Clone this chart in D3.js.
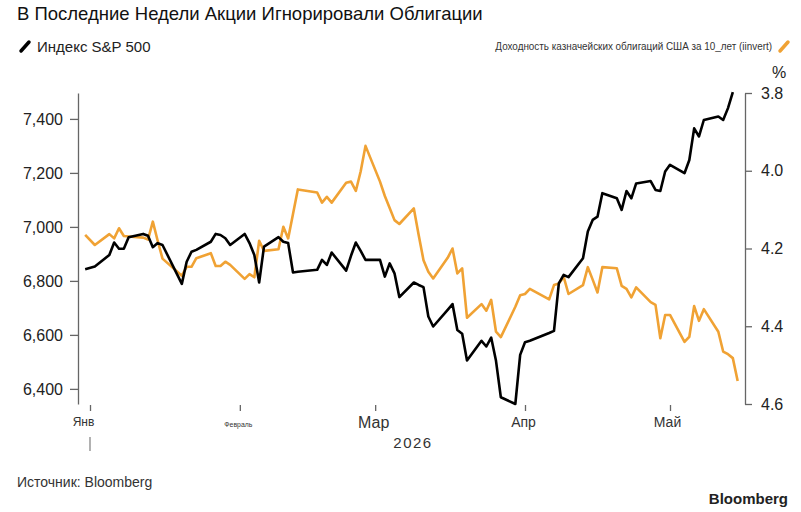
<!DOCTYPE html>
<html>
<head>
<meta charset="utf-8">
<script src="https://cdn.jsdelivr.net/npm/d3@7"></script>
<style>
  body { margin: 0; background: #fff; }
  svg { font-family: "Liberation Sans", Arial, sans-serif; }
</style>
</head>
<body>
<script>
// S&P 500 (left axis)
var spxDates = ["2025-12-31","2026-01-02","2026-01-05","2026-01-06","2026-01-07","2026-01-08","2026-01-09",
  "2026-01-12","2026-01-13","2026-01-14","2026-01-15","2026-01-16","2026-01-20","2026-01-21","2026-01-22","2026-01-23",
  "2026-01-26","2026-01-27","2026-01-28","2026-01-29","2026-01-30","2026-02-02","2026-02-03","2026-02-04","2026-02-05","2026-02-06",
  "2026-02-09","2026-02-10","2026-02-11","2026-02-12","2026-02-13","2026-02-17","2026-02-18","2026-02-19","2026-02-20",
  "2026-02-23","2026-02-24","2026-02-25","2026-02-26","2026-02-27","2026-03-02","2026-03-03","2026-03-04","2026-03-05","2026-03-06",
  "2026-03-09","2026-03-10","2026-03-11","2026-03-12","2026-03-13","2026-03-16","2026-03-17","2026-03-18","2026-03-19","2026-03-20",
  "2026-03-23","2026-03-24","2026-03-25","2026-03-26","2026-03-27","2026-03-30","2026-03-31","2026-04-01","2026-04-02",
  "2026-04-06","2026-04-07","2026-04-08","2026-04-09","2026-04-10","2026-04-13","2026-04-14","2026-04-15","2026-04-16","2026-04-17",
  "2026-04-20","2026-04-21","2026-04-22","2026-04-23","2026-04-24","2026-04-27","2026-04-28","2026-04-29","2026-04-30","2026-05-01",
  "2026-05-04","2026-05-05","2026-05-06","2026-05-07","2026-05-08","2026-05-11","2026-05-12","2026-05-13","2026-05-14"];
var spxValues = [6843,6853,6896,6942,6919,6919,6962,
  6974,6967,6925,6940,6933,6789,6871,6908,6915,
  6945,6974,6970,6958,6933,6974,6940,6896,6794,6927,
  6962,6945,6940,6831,6834,6841,6878,6859,6905,
  6838,6893,6942,6911,6878,6878,6816,6865,6828,6740,
  6794,6785,6777,6668,6631,6693,6714,6618,6604,6505,
  6578,6557,6590,6504,6369,6344,6526,6573,6578,
  6607,6615,6791,6822,6814,6884,6983,7026,7038,7125,
  7106,7063,7133,7106,7161,7170,7137,7133,7205,7230,
  7199,7248,7365,7335,7396,7409,7396,7440,7499];

// 10-year Treasury yield, % (right axis, inverted)
var yieldDates = ["2025-12-31","2026-01-02","2026-01-05","2026-01-06","2026-01-07","2026-01-08","2026-01-09",
  "2026-01-12","2026-01-13","2026-01-14","2026-01-15","2026-01-16","2026-01-20","2026-01-21","2026-01-22","2026-01-23",
  "2026-01-26","2026-01-27","2026-01-28","2026-01-29","2026-01-30","2026-02-02","2026-02-03","2026-02-04","2026-02-05","2026-02-06",
  "2026-02-09","2026-02-10","2026-02-11","2026-02-12","2026-02-13","2026-02-17","2026-02-18","2026-02-19","2026-02-20",
  "2026-02-23","2026-02-24","2026-02-25","2026-02-26","2026-02-27","2026-03-02","2026-03-03","2026-03-04","2026-03-05","2026-03-06",
  "2026-03-09","2026-03-10","2026-03-11","2026-03-12","2026-03-13","2026-03-16","2026-03-17","2026-03-18","2026-03-19","2026-03-20",
  "2026-03-23","2026-03-24","2026-03-25","2026-03-26","2026-03-27","2026-03-30","2026-03-31","2026-04-01","2026-04-02",
  "2026-04-06","2026-04-07","2026-04-08","2026-04-09","2026-04-10","2026-04-13","2026-04-14","2026-04-15","2026-04-16","2026-04-17",
  "2026-04-20","2026-04-21","2026-04-22","2026-04-23","2026-04-24","2026-04-27","2026-04-28","2026-04-29","2026-04-30","2026-05-01",
  "2026-05-04","2026-05-05","2026-05-06","2026-05-07","2026-05-08","2026-05-11","2026-05-12","2026-05-13","2026-05-14","2026-05-15"];
var yieldValues = [4.165,4.191,4.163,4.174,4.148,4.168,4.169,
  4.172,4.177,4.131,4.180,4.226,4.270,4.247,4.247,4.225,
  4.212,4.245,4.245,4.234,4.242,4.278,4.266,4.274,4.180,4.206,
  4.202,4.144,4.174,4.111,4.048,4.056,4.082,4.067,4.082,
  4.031,4.028,4.052,4.002,3.936,4.028,4.065,4.096,4.127,4.137,
  4.097,4.165,4.230,4.260,4.277,4.224,4.200,4.264,4.251,4.378,
  4.343,4.360,4.332,4.414,4.428,4.350,4.320,4.317,4.304,
  4.331,4.294,4.290,4.273,4.317,4.294,4.248,4.280,4.313,4.248,
  4.251,4.296,4.304,4.326,4.300,4.338,4.345,4.431,4.371,4.371,
  4.440,4.427,4.348,4.386,4.356,4.414,4.465,4.472,4.482,4.541];

var leftTicks = [6400, 6600, 6800, 7000, 7200, 7400];
var rightTicks = [3.8, 4.0, 4.2, 4.4, 4.6];
var monthTicks = ["2026-01-01","2026-02-01","2026-03-01","2026-04-01","2026-05-01"];
var monthLabels = ["Янв", "Февраль", "Мар", "Апр", "Май"];

window.onload = function(){
    drawChart();
};

function drawChart(){
    var W = 801, H = 512;
    var parse = d3.utcParse("%Y-%m-%d");
    var orange = "#f0a234";

    var svg = d3.select("body").append("svg").attr("width", W).attr("height", H);

    var x = d3.scaleUtc()
        .domain([parse("2026-01-01"), parse("2026-05-01")])
        .range([90, 670]);
    var yLeft = d3.scaleLinear().domain([6344, 7496]).range([404, 93]);
    var yRight = d3.scaleLinear().domain([3.8, 4.6]).range([93, 404]);

    // title
    svg.append("text")
        .attr("x", 17).attr("y", 20)
        .style("font-size", "18.5px").attr("fill", "#111")
        .text("В Последние Недели Акции Игнорировали Облигации");

    // legends
    svg.append("line").attr("x1", 21).attr("y1", 51).attr("x2", 29).attr("y2", 42)
        .attr("stroke", "#000").attr("stroke-width", 3.5).attr("stroke-linecap", "round");
    svg.append("text").attr("x", 37).attr("y", 52)
        .style("font-size", "15px").attr("fill", "#222")
        .text("Индекс S&P 500");

    svg.append("text")
        .attr("transform", "translate(772,50) scale(0.9,1)")
        .attr("text-anchor", "end")
        .style("font-size", "11px").attr("fill", "#333")
        .text("Доходность казначейских облигаций США за 10_лет (iinvert)");
    svg.append("line").attr("x1", 780).attr("y1", 51).attr("x2", 788).attr("y2", 42)
        .attr("stroke", orange).attr("stroke-width", 3.5).attr("stroke-linecap", "round");

    svg.append("text").attr("x", 779).attr("y", 78)
        .attr("text-anchor", "middle")
        .style("font-size", "16px").attr("fill", "#222")
        .text("%");

    // left axis
    var gl = svg.append("g")
        .attr("transform", "translate(78,0)")
        .call(d3.axisLeft(yLeft).tickValues(leftTicks).tickSize(8).tickSizeOuter(0).tickPadding(7)
            .tickFormat(d3.format(",")));
    gl.selectAll("text").style("font-size", "16px").attr("fill", "#222")
        .style("font-family", "Liberation Sans, Arial, sans-serif");

    // right axis
    var gr = svg.append("g")
        .attr("transform", "translate(745,0)")
        .call(d3.axisRight(yRight).tickValues(rightTicks).tickSize(7).tickSizeOuter(0).tickPadding(9)
            .tickFormat(d3.format(".1f")));
    gr.selectAll("text").style("font-size", "16px").attr("fill", "#222")
        .style("font-family", "Liberation Sans, Arial, sans-serif");

    svg.selectAll(".domain, .tick line").attr("stroke", "#666").attr("stroke-width", 1.3);

    // x axis
    var labelSizes = [12, 8, 16, 14, 14];
    var gx = svg.append("g")
        .attr("transform", "translate(0,405)")
        .call(d3.axisBottom(x).tickValues(monthTicks.map(parse)).tickSize(6).tickPadding(6)
            .tickFormat(function(d, i){ return monthLabels[i]; }));
    gx.select(".domain").remove();
    gx.selectAll(".tick line").attr("stroke", "#666").attr("stroke-width", 1.3);
    gx.selectAll("text")
        .attr("fill", "#333")
        .style("font-family", "Liberation Sans, Arial, sans-serif")
        .style("font-size", function(d, i){ return labelSizes[i] + "px"; })
        .attr("dx", function(d, i){ return i == 0 ? -7 : (i == 4 ? -3 : -2); })
        .attr("dy", function(d, i){ return i == 1 ? "1.2em" : "0.71em"; });
    // the February label is squeezed in the original
    gx.selectAll("text").filter(function(d, i){ return i == 1; })
        .attr("textLength", 28).attr("lengthAdjust", "spacingAndGlyphs");

    // year marker
    svg.append("line")
        .attr("x1", x(parse(monthTicks[0]))).attr("x2", x(parse(monthTicks[0])))
        .attr("y1", 437).attr("y2", 451)
        .attr("stroke", "#888").attr("stroke-width", 1.3);
    svg.append("text").attr("x", 413).attr("y", 448)
        .attr("text-anchor", "middle")
        .style("font-size", "15px").style("letter-spacing", "1.5px").attr("fill", "#333")
        .text("2026");

    // lines
    var spx = spxDates.map(function(d, i){ return {date: parse(d), value: spxValues[i]}; });
    var yld = yieldDates.map(function(d, i){ return {date: parse(d), value: yieldValues[i]}; });

    svg.append("path")
        .datum(yld)
        .attr("fill", "none")
        .attr("stroke", orange)
        .attr("stroke-width", 2.6)
        .attr("stroke-linejoin", "round")
        .attr("d", d3.line().x(function(d){ return x(d.date); }).y(function(d){ return yRight(d.value); }));

    svg.append("path")
        .datum(spx)
        .attr("fill", "none")
        .attr("stroke", "#000")
        .attr("stroke-width", 2.6)
        .attr("stroke-linejoin", "round")
        .attr("d", d3.line().x(function(d){ return x(d.date); }).y(function(d){ return yLeft(d.value); }));

    // footer
    svg.append("text").attr("x", 17).attr("y", 487)
        .style("font-size", "14px").attr("fill", "#333")
        .text("Источник: Bloomberg");
    svg.append("text").attr("x", 788).attr("y", 504)
        .attr("text-anchor", "end")
        .style("font-size", "15px").style("font-weight", "bold").attr("fill", "#222")
        .text("Bloomberg");
}
</script>
</body>
</html>
